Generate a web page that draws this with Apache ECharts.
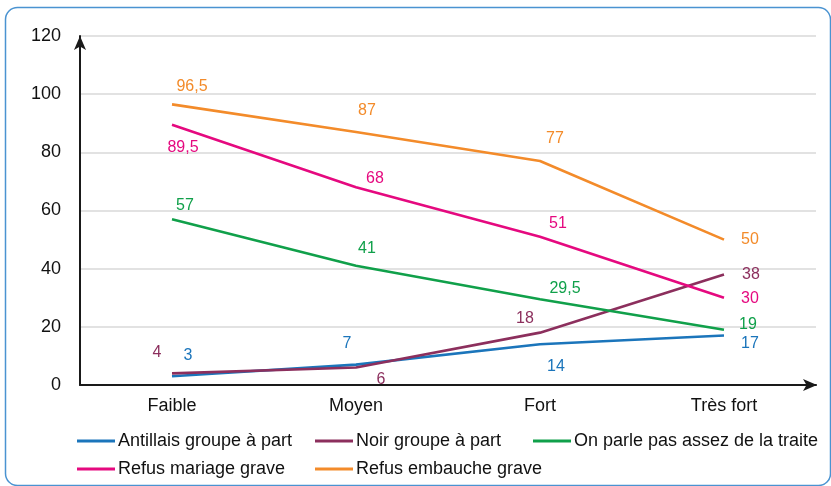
<!DOCTYPE html>
<html>
<head>
<meta charset="utf-8">
<script src="https://cdn.jsdelivr.net/npm/echarts@6/dist/echarts.min.js"></script>
<style>
  html, body { margin: 0; padding: 0; background: #fff; }
  #dom { width: 831px; height: 486px; }
</style>
</head>
<body>
<div id="dom"></div>
<script>
// donnees
var categories = ['Faible', 'Moyen', 'Fort', 'Très fort'];
var yTicks = [0, 20, 40, 60, 80, 100, 120];

var antillais = [3, 7, 14, 17];
var noir = [4, 6, 18, 38];
var traite = [57, 41, 29.5, 19];
var mariage = [89.5, 68, 51, 30];
var embauche = [96.5, 87, 77, 50];

// decalage des etiquettes (style)
var offAntillais = [[16, -21], [-9, -21], [16, 22], [26, 8]];
var offNoir = [[-15, -21], [25, 12], [-15, -14], [27, 0]];
var offTraite = [[13, -14], [11, -17], [25, -11], [24, -5]];
var offMariage = [[11, 23], [19, -9], [18, -13], [26, 1]];
var offEmbauche = [[20, -18], [11, -21], [15, -22], [26, 0]];

var myChart = echarts.init(document.getElementById('dom'));
var FONT = '"Liberation Sans", Arial, sans-serif';

function withLabels(values, offsets) {
  return values.map(function (v, i) {
    return { value: v, label: { offset: offsets[i] } };
  });
}

function makeSeries(name, color, values, offsets) {
  return {
    name: name,
    type: 'line',
    symbol: 'circle',
    symbolSize: 0,
    showSymbol: true,
    lineStyle: { color: color, width: 2.6 },
    itemStyle: { color: color },
    label: {
      show: true,
      position: 'inside',
      color: color,
      fontSize: 16,
      fontFamily: FONT,
      formatter: function (p) {
        return String(p.value).replace('.', ',');
      }
    },
    data: withLabels(values, offsets)
  };
}

function legendAt(name, left, top) {
  return {
    data: [name],
    left: left,
    top: top,
    icon: 'rect',
    itemWidth: 38,
    itemHeight: 3,
    padding: 0,
    textStyle: { fontSize: 18, color: '#111', fontFamily: FONT, padding: [0, 0, 0, -2] }
  };
}

var option = {
  animation: false,
  backgroundColor: '#fff',
  grid: { left: 80, right: 15, top: 36, bottom: 101 },
  legend: [
    legendAt('Antillais groupe à part', 77, 432),
    legendAt('Noir groupe à part', 315, 432),
    legendAt('On parle pas assez de la traite', 533, 432),
    legendAt('Refus mariage grave', 77, 460),
    legendAt('Refus embauche grave', 315, 460)
  ],
  xAxis: {
    type: 'category',
    data: categories,
    boundaryGap: true,
    axisLine: {
      lineStyle: { color: '#1a1a1a', width: 2 },
      symbol: ['none', 'arrow'],
      symbolSize: [9, 14],
      symbolOffset: [0, 1]
    },
    axisTick: { show: false },
    axisLabel: { fontSize: 18, color: '#111', margin: 12, fontFamily: FONT }
  },
  yAxis: {
    type: 'value',
    min: yTicks[0],
    max: yTicks[yTicks.length - 1],
    interval: 20,
    axisLine: {
      show: true,
      lineStyle: { color: '#1a1a1a', width: 2 },
      symbol: ['none', 'arrow'],
      symbolSize: [9, 14],
      symbolOffset: [0, 0]
    },
    axisTick: { show: false },
    axisLabel: { fontSize: 18, color: '#111', margin: 19, fontFamily: FONT },
    splitLine: { lineStyle: { color: '#d9d9d9', width: 1.5 } }
  },
  series: [
    makeSeries('Antillais groupe à part', '#1b75bb', antillais, offAntillais),
    makeSeries('Noir groupe à part', '#8c2f5d', noir, offNoir),
    makeSeries('On parle pas assez de la traite', '#10a04a', traite, offTraite),
    makeSeries('Refus mariage grave', '#e5097f', mariage, offMariage),
    makeSeries('Refus embauche grave', '#f38b2a', embauche, offEmbauche)
  ],
  graphic: [{
    type: 'rect',
    left: 3,
    top: 5,
    shape: { width: 825, height: 478, r: 12 },
    style: { fill: 'none', stroke: '#4a93d1', lineWidth: 1.5 },
    silent: true,
    z: -1
  }]
};
myChart.setOption(option);
</script>
</body>
</html>
